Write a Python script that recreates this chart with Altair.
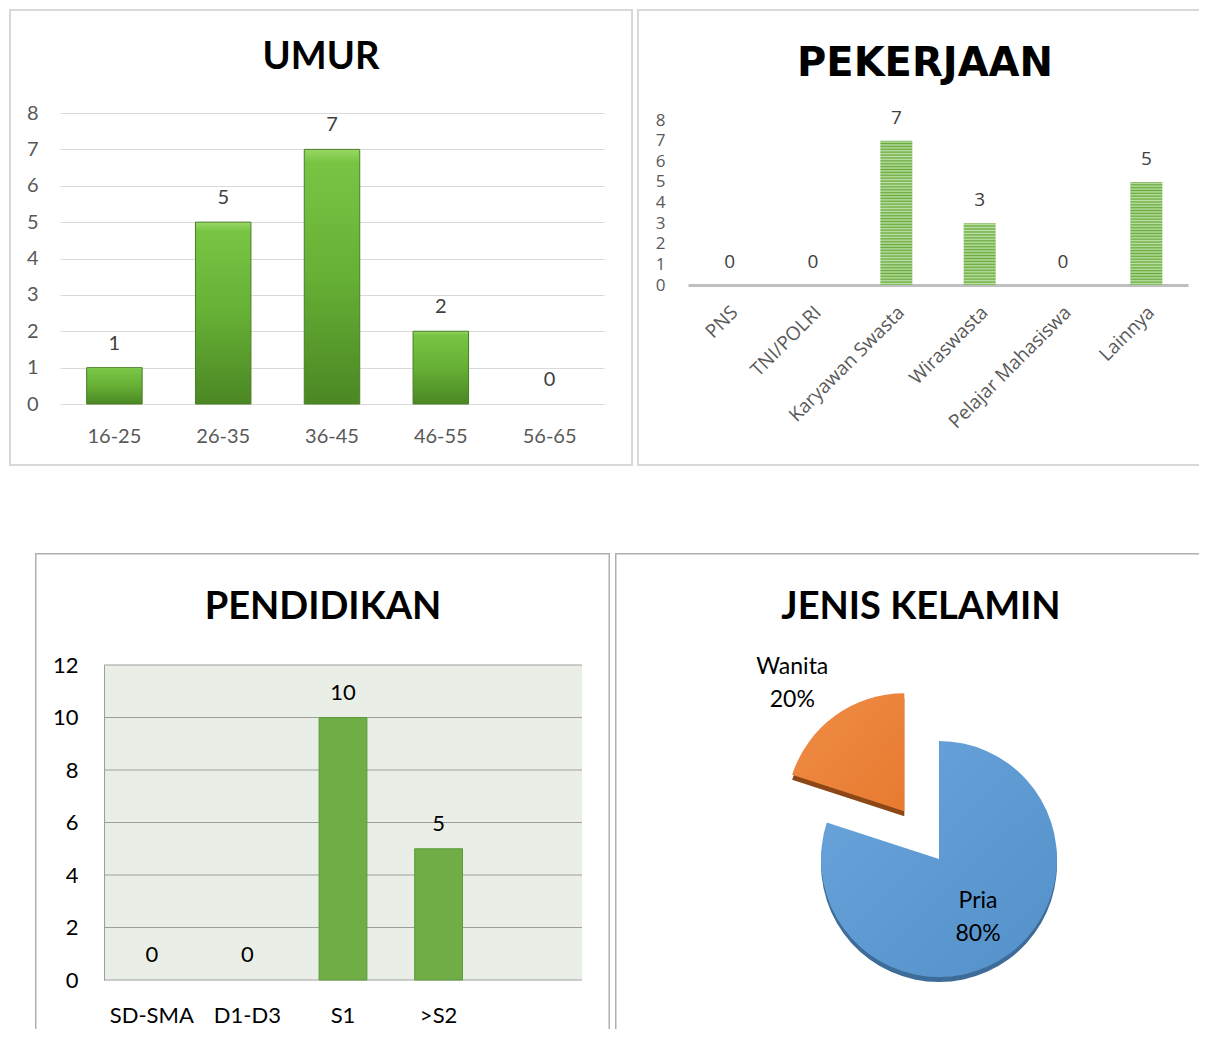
import math
import altair as alt
import pandas as pd

# ---------------- data ----------------
umur_cat = ["16-25", "26-35", "36-45", "46-55", "56-65"]
umur_val = [1, 5, 7, 2, 0]
umur_ticks = [0, 1, 2, 3, 4, 5, 6, 7, 8]

job_cat = ["PNS", "TNI/POLRI", "Karyawan Swasta", "Wiraswasta", "Pelajar Mahasiswa", "Lainnya"]
job_val = [0, 0, 7, 3, 0, 5]
job_ticks = [0, 1, 2, 3, 4, 5, 6, 7, 8]

edu_cat = ["SD-SMA", "D1-D3", "S1", ">S2"]
edu_val = [0, 0, 10, 5]
edu_ticks = [0, 2, 4, 6, 8, 10, 12]

sex_cat = ["Pria", "Wanita"]
sex_pct = [80, 20]

titles = ["UMUR", "PEKERJAAN", "PENDIDIKAN", "JENIS KELAMIN"]

CAL = "Lato"
SEG = "Open Sans"


def title_layer(text, cx, by, font=CAL, size=38):
    return alt.Chart(pd.DataFrame({"judul": [text]})).mark_text(
        font=font, fontSize=size, fontWeight="bold", color="#000000",
        align="center", baseline="alphabetic"
    ).encode(text="judul:N", x=alt.value(cx), y=alt.value(by))


def frame_layer(w, h, color, sw, right=True, bottom=True):
    x2 = w - sw / 2 if right else w + 20
    y2 = h - sw / 2 if bottom else h + 20
    return alt.Chart(pd.DataFrame({"f": [0]})).mark_rect(
        fill="#ffffff", fillOpacity=0, stroke=color, strokeWidth=sw, clip=True
    ).encode(x=alt.value(sw / 2), x2=alt.value(x2), y=alt.value(sw / 2), y2=alt.value(y2))


# ---------------- panel A : UMUR ----------------
A_W, A_H = 624, 457
A_Y0, A_Y8 = 395, 104
dfA = pd.DataFrame({"umur": umur_cat, "jumlah": umur_val})
axA_x = alt.Axis(title=None, orient="bottom", offset=-(A_H - A_Y0), labelAngle=0,
                 domain=False, ticks=False, grid=False, labelPadding=22,
                 labelFont=CAL, labelFontSize=20, labelColor="#595959")
axA_y = alt.Axis(title=None, orient="left", offset=-51, values=umur_ticks,
                 domain=False, ticks=False, grid=True, gridColor="#d9d9d9", gridWidth=1,
                 labelPadding=22, labelFont=CAL, labelFontSize=20, labelColor="#595959")
baseA = alt.Chart(dfA).encode(
    x=alt.X("umur:N", sort=umur_cat,
            scale=alt.Scale(range=[51, 595], paddingInner=0.49, paddingOuter=0.245), axis=axA_x),
    y=alt.Y("jumlah:Q", scale=alt.Scale(domain=[0, 8], range=[A_Y0, A_Y8], nice=False), axis=axA_y),
)
gradA = alt.Gradient(gradient="linear", x1=0, y1=0, x2=0, y2=1, stops=[
    alt.GradientStop(offset=0, color="#98d865"),
    alt.GradientStop(offset=0.05, color="#78c544"),
    alt.GradientStop(offset=0.5, color="#66b035"),
    alt.GradientStop(offset=1, color="#4b8724"),
])
barsA = baseA.transform_filter(alt.datum.jumlah > 0).mark_bar(
    fill=gradA, stroke="#4a7e24", strokeWidth=1)
labelsA = baseA.mark_text(font=CAL, fontSize=20, color="#404040",
                          baseline="alphabetic", dy=-18).encode(text="jumlah:Q")
panelA = alt.layer(
    frame_layer(A_W, A_H, "#d9d9d9", 2),
    barsA, labelsA,
    title_layer(titles[0], 312, 60),
).properties(width=A_W, height=A_H)

# ---------------- panel B : PEKERJAAN ----------------
B_W, B_H = 562, 457
B_Y0, B_Y8 = 276, 111
dfB = pd.DataFrame({"pekerjaan": job_cat, "jumlah": job_val})
axB_x = alt.Axis(title=None, orient="bottom", offset=-(B_H - B_Y0), labelAngle=315,
                 labelAlign="right", labelBaseline="middle", labelOffset=5,
                 domain=True, domainColor="#bfbfbf", domainWidth=3, ticks=False, grid=False,
                 labelPadding=24, labelFont=SEG, labelFontSize=19, labelColor="#595959",
                 labelLimit=300)
axB_y = alt.Axis(title=None, orient="left", offset=-40, values=job_ticks,
                 domain=False, ticks=False, grid=False, labelPadding=12, labelOverlap=False,
                 labelFont=SEG, labelFontSize=17, labelColor="#595959")
baseB = alt.Chart(dfB).encode(
    x=alt.X("pekerjaan:N", sort=job_cat,
            scale=alt.Scale(range=[51, 551], paddingInner=0.616, paddingOuter=0.308), axis=axB_x),
    y=alt.Y("jumlah:Q", scale=alt.Scale(domain=[0, 8], range=[B_Y0, B_Y8], nice=False), axis=axB_y),
)
px_unit = (B_Y0 - B_Y8) / 8.0
stripe_layers = []
for cat, v in zip(job_cat, job_val):
    if v <= 0:
        continue
    n = max(1, int(round(v * px_unit / 2.9)))
    stops = []
    for i in range(n):
        stops.append(alt.GradientStop(offset=i / n, color="#6aab3e"))
        stops.append(alt.GradientStop(offset=(i + 0.5) / n, color="#bde0a6"))
    stops.append(alt.GradientStop(offset=1, color="#6aab3e"))
    grad = alt.Gradient(gradient="linear", x1=0, y1=0, x2=0, y2=1, stops=stops)
    stripe_layers.append(
        baseB.transform_filter(alt.datum.pekerjaan == cat).mark_bar(fill=grad)
    )
labelsB = baseB.mark_text(font=SEG, fontSize=19, color="#404040",
                          baseline="alphabetic", dy=-17).encode(text="jumlah:Q")
panelB = alt.layer(
    frame_layer(B_W, B_H, "#d9d9d9", 2, right=False),
    *stripe_layers, labelsB,
    title_layer(titles[1], 288, 67, font="DejaVu Sans", size=40),
).properties(width=B_W, height=B_H)

# ---------------- panel C : PENDIDIKAN ----------------
C_W, C_H = 575, 476
C_X0, C_X1 = 69, 547
C_Y0, C_Y12 = 427, 112
dfC = pd.DataFrame({"pendidikan": edu_cat, "jumlah": edu_val})
dfCt = pd.DataFrame({"tick": edu_ticks})
yscaleC = alt.Scale(domain=[0, 12], range=[C_Y0, C_Y12], nice=False)
axC_y = alt.Axis(title=None, orient="left", offset=-C_X0, values=edu_ticks,
                 domain=True, domainColor="#9e9e9e", domainWidth=1, ticks=False, grid=False,
                 labelPadding=26, labelFont=CAL, labelFontSize=22, labelColor="#000000", zindex=1)
axC_x = alt.Axis(title=None, orient="bottom", offset=-(C_H - C_Y0), labelAngle=0,
                 domain=False, ticks=False, grid=False, labelPadding=25,
                 labelFont=CAL, labelFontSize=22, labelColor="#000000")
xC = alt.X("pendidikan:N", sort=edu_cat,
           scale=alt.Scale(range=[C_X0, C_X1], paddingInner=0.5, paddingOuter=0.75, align=1 / 6),
           axis=axC_x)
baseC = alt.Chart(dfC).encode(x=xC, y=alt.Y("jumlah:Q", scale=yscaleC, axis=axC_y))
bgC = alt.Chart(pd.DataFrame({"b": [0]})).mark_rect(fill="#e9efe6").encode(
    x=alt.value(C_X0), x2=alt.value(C_X1), y=alt.value(C_Y12), y2=alt.value(C_Y0))
gridC = alt.Chart(dfCt).mark_rule(color="#9e9e9e", strokeWidth=1).encode(
    y=alt.Y("tick:Q", scale=yscaleC, axis=axC_y), x=alt.value(C_X0), x2=alt.value(C_X1))
barsC = baseC.transform_filter(alt.datum.jumlah > 0).mark_bar(
    fill="#70ad47", stroke="#5a9a38", strokeWidth=1)
labelsC = baseC.mark_text(font=CAL, fontSize=22, color="#000000",
                          baseline="alphabetic", dy=-18).encode(text="jumlah:Q")
panelC = alt.layer(
    frame_layer(C_W, C_H, "#b0b0b0", 1.5, bottom=False),
    bgC, gridC, barsC, labelsC,
    title_layer(titles[2], 288, 66),
).properties(width=C_W, height=C_H)

# ---------------- panel D : JENIS KELAMIN ----------------
D_W, D_H = 584, 476
R = 118
PX, PY = 324, 306
EXPLODE = 59
DEPTH = 5
total = sum(sex_pct)
dfD = pd.DataFrame({"jk": sex_cat, "persen": sex_pct})
stackD = alt.Chart(dfD).transform_window(
    akhir="sum(persen)", frame=[None, 0]
).transform_calculate(
    awal="datum.akhir - datum.persen",
    tengah="datum.akhir - datum.persen / 2",
    label="datum.jk + '\\n' + datum.persen + '%'",
)
thetaScale = alt.Scale(domain=[0, total], range=[0, 2 * math.pi])

# centre of each slice (the 20% slice is pulled out along its mid angle)
cum = 0
centres = {}
for cat, p in zip(sex_cat, sex_pct):
    mid = (cum + p / 2) / total * 2 * math.pi
    cum += p
    dist = EXPLODE if cat == "Wanita" else 0
    centres[cat] = (PX + dist * math.sin(mid), PY - dist * math.cos(mid))

face = {
    "Pria": alt.Gradient(gradient="linear", x1=0, y1=0, x2=1, y2=1, stops=[
        alt.GradientStop(offset=0, color="#6aa6dc"), alt.GradientStop(offset=1, color="#5490c9")]),
    "Wanita": alt.Gradient(gradient="linear", x1=0, y1=0, x2=1, y2=1, stops=[
        alt.GradientStop(offset=0, color="#f08c46"), alt.GradientStop(offset=1, color="#e77b30")]),
}
shade = {"Pria": "#3e6c99", "Wanita": "#8d4716"}
label_pos = {"Pria": (70, 0.037), "Wanita": (170, -0.091)}


def arc_layer(cat, fill, dy):
    cx, cy = centres[cat]
    return stackD.transform_filter(alt.datum.jk == cat).mark_arc(radius=R, fill=fill).encode(
        theta=alt.Theta("awal:Q", stack=False, scale=thetaScale),
        theta2="akhir:Q",
        x=alt.value(cx), y=alt.value(cy + dy),
    )


def pie_label(cat):
    cx, cy = centres[cat]
    r, off = label_pos[cat]
    return stackD.transform_filter(alt.datum.jk == cat).mark_text(
        font=CAL, fontSize=23, color="#000000", lineBreak="\n", lineHeight=33,
        radius=r, thetaOffset=off, align="center", baseline="middle", dy=-16
    ).encode(
        text="label:N",
        theta=alt.Theta("tengah:Q", stack=False, scale=thetaScale),
        x=alt.value(cx), y=alt.value(cy),
    )


panelD = alt.layer(
    frame_layer(D_W, D_H, "#b0b0b0", 1.5, right=False, bottom=False),
    arc_layer("Pria", shade["Pria"], DEPTH),
    arc_layer("Wanita", shade["Wanita"], DEPTH),
    arc_layer("Pria", face["Pria"], 0),
    arc_layer("Wanita", face["Wanita"], 0),
    pie_label("Pria"), pie_label("Wanita"),
    title_layer(titles[3], 306, 66),
).properties(width=D_W, height=D_H)

spacer = alt.Chart(pd.DataFrame({"s": [""]})).mark_text().encode(
    text="s:N").properties(width=21, height=10)

row1 = alt.hconcat(panelA, panelB, spacing=4).resolve_scale(x="independent", y="independent")
row2 = alt.hconcat(spacer, panelC, panelD, spacing=5).resolve_scale(
    x="independent", y="independent", theta="independent")
chart = alt.vconcat(
    row1, row2, spacing=86,
    padding={"left": 1, "top": 1, "right": 0, "bottom": 0},
).resolve_scale(x="independent", y="independent", theta="independent").configure_view(strokeWidth=0)

chart.save("out.html", embed_options={"renderer": "svg", "actions": False})
